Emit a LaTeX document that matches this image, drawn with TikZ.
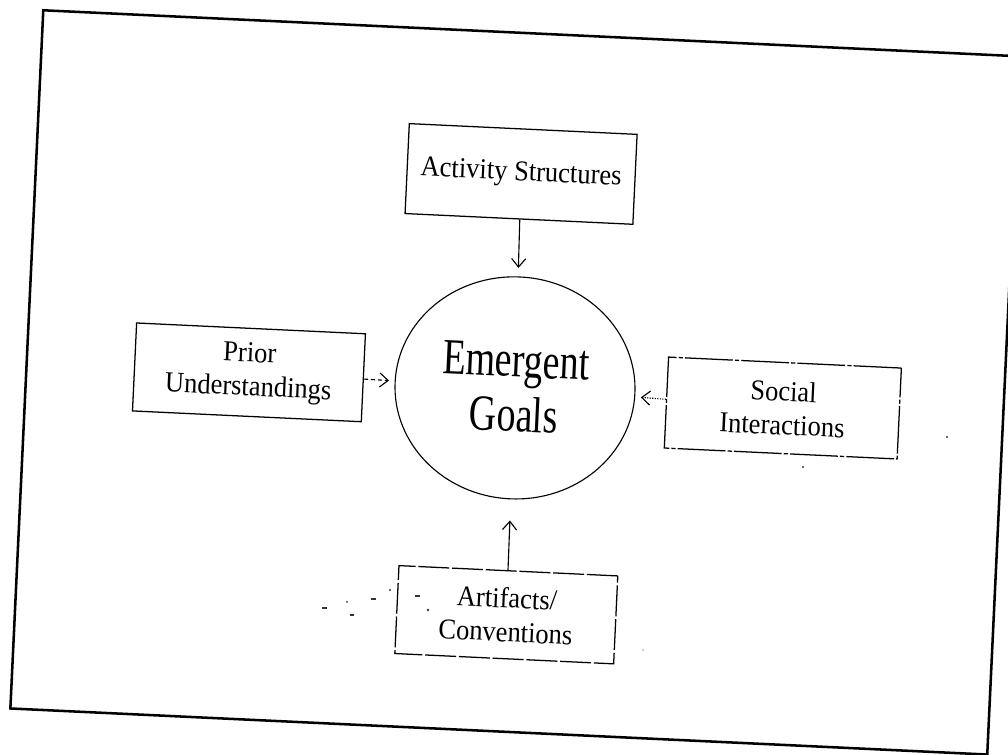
\documentclass[tikz,border=0pt]{standalone}
\usepackage{fontspec}
\setmainfont{Liberation Serif}
\newfontfamily\goalfont[FakeStretch=0.75]{Liberation Serif}
\newfontfamily\labelfont[FakeStretch=0.92]{Liberation Serif}
\usetikzlibrary{shapes.geometric,arrows.meta}

\tikzset{
  factor/.style={draw, line width=0.9pt, align=center, inner sep=0pt,
    font=\labelfont\fontsize{20.5}{24}\selectfont},
  goal/.style={draw, ellipse, line width=0.8pt, inner sep=0pt,
    minimum width=6cm, minimum height=5.55cm, align=center,
    font=\goalfont\fontsize{36}{39}\selectfont},
  link/.style={line width=0.8pt, -{Straight Barb[length=6pt,width=10pt,line width=0.8pt]}},
  frame/.style={line width=1.8pt},
  speck/.style={fill=black!80}
}

\begin{document}
\begin{tikzpicture}[x=0.025cm, y=0.025cm]
  \useasboundingbox (0,0) rectangle (1008,755);
  \clip (0,0) rectangle (1008,755);

  \begin{scope}[rotate around={-2.7:(517,367)}, transform shape]
    % outer frame
    \draw[frame] (26,23) rectangle (1004,722);

    % central goal
    \node[goal] (goals) at (515,367) {Emergent\\Goals};

    % contributing factors
    \node[factor, minimum width=5.7cm, minimum height=2.25cm] (activity) at (511,581) {Activity Structures};
    \node[factor, minimum width=5.725cm, minimum height=2.2cm] (prior) at (248.5,370) {Prior\\Understandings};
    \node[factor, minimum width=5.825cm, minimum height=2.275cm,
          dash pattern=on 34pt off 1.5pt on 3pt off 1.5pt] (social) at (783.5,359.5) {Social\\Interactions};
    \node[factor, minimum width=5.475cm, minimum height=2.2cm,
          dash pattern=on 22pt off 2pt] (artifacts) at (517,140) {Artifacts/\\Conventions};

    % influences on the goal
    \draw[link, shorten >=6pt] (activity) -- (goals);
    \draw[link, dash pattern=on 3pt off 2pt, shorten >=4pt] (prior) -- (goals);
    \draw[link, densely dotted, shorten >=4pt] (social) -- (goals);
    \draw[link, shorten >=15pt] (artifacts) -- (goals);
  \end{scope}

  % stray marks
  \fill[speck] (322,146) rectangle ++(5,1.5);
  \fill[speck] (347,153) circle (1);
  \fill[speck] (350,139) rectangle ++(4,1.5);
  \fill[speck] (371,155) rectangle ++(5,1.5);
  \fill[speck] (390,165) circle (1.2);
  \fill[speck] (415,158) rectangle ++(5,1.5);
  \fill[speck] (428,145) circle (1.3);
  \fill[speck] (803,288) circle (1.1);
  \fill[speck] (947,318) circle (1.2);
  \fill[black!40] (643,105) circle (0.8);
\end{tikzpicture}
\end{document}
